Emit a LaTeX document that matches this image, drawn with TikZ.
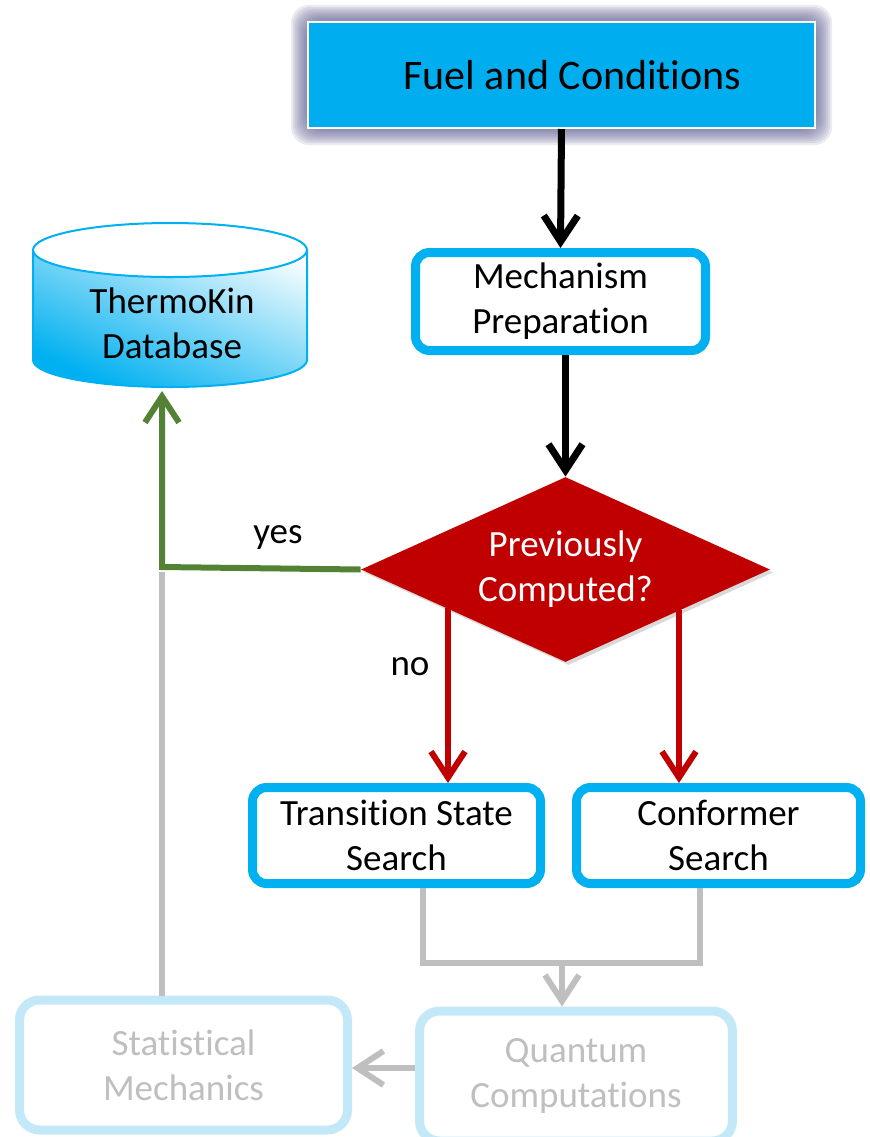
\documentclass[tikz,border=0pt]{standalone}
\usepackage{fontspec}
\setmainfont{Carlito}[Ligatures={NoCommon,NoContextual,NoRare}]
\usetikzlibrary{arrows.meta,shapes.geometric,shadows,calc}
\definecolor{fuelblue}{RGB}{0,174,239}
\definecolor{cyanb}{RGB}{0,176,240}
\definecolor{lightcyan}{RGB}{195,233,248}
\definecolor{glow}{RGB}{95,95,145}
\definecolor{grayline}{RGB}{191,191,191}
\definecolor{greenline}{RGB}{84,130,53}
\definecolor{redd}{RGB}{192,0,0}
\begin{document}
\begin{tikzpicture}[x=0.5pt,y=-0.5pt,
  txt/.style={font=\fontsize{18.5}{22.5}\selectfont, align=center},
  procbox/.style={txt, draw=cyanb, line width=4.5pt, fill=white, rounded corners=7pt, inner sep=0pt,
     drop shadow={shadow xshift=1.5pt,shadow yshift=-1.5pt,opacity=0.35}},
  fadedbox/.style={txt, draw=lightcyan, line width=4.5pt, fill=white, rounded corners=10pt, inner sep=0pt, text=grayline},
  head/.style={-{Straight Barb[length=13pt,width=17pt]}},
  conn/.style={line width=3pt},
]
\useasboundingbox (0,0) rectangle (869,1137);

% glow of the top box
\foreach \i in {1,...,9}
  \fill[glow, opacity=0.13, rounded corners=9pt] ({308-1.9*\i},{22-1.9*\i}) rectangle ({815+1.9*\i},{128+1.9*\i});
\node[draw=white, line width=1pt, fill=fuelblue, minimum width=253.5pt, minimum height=53pt, inner sep=0pt,
      font=\fontsize{21}{25}\selectfont] (fuel) at (561.5,75) {\hspace{11pt}Fuel and Conditions};

% database cylinder
\shade[top color=white, bottom color=cyanb, shading angle=-25]
  (33,250) -- (33,360) arc[start angle=180, end angle=360, x radius=68.5pt, y radius=13.5pt]
  -- (307,250) arc[start angle=0, end angle=180, x radius=68.5pt, y radius=13.5pt] -- cycle;
\draw[cyanb, line width=1pt]
  (33,250) -- (33,360) arc[start angle=180, end angle=360, x radius=68.5pt, y radius=13.5pt]
  -- (307,250);
\filldraw[fill=white, draw=cyanb, line width=1pt] (170,250) ellipse [x radius=68.5pt, y radius=13.5pt];
\node[txt] (db) at (172,323) {ThermoKin\\Database};
\coordinate (dbbot) at (162,391);

% process boxes
\node[procbox, minimum width=145pt, minimum height=49pt] (mech) at (560.5,301.5) {Mechanism\\Preparation};
\node[diamond, aspect=2.21, fill=redd, minimum width=204.5pt, minimum height=92.5pt, inner sep=0pt, text=white, txt,
      drop shadow={shadow xshift=1.5pt,shadow yshift=-1.5pt,opacity=0.3}] (prev) at (565.5,569.5) {Previously\\Computed?};
\node[procbox, minimum width=144pt, minimum height=48pt] (ts) at (396.5,835.5) {Transition State\\Search};
\node[procbox, minimum width=142pt, minimum height=48pt] (conf) at (718.5,835.5) {Conformer\\Search};
\node[fadedbox, minimum width=156.5pt, minimum height=65pt] (quant) at (576,1076) {Quantum\\Computations};
\node[fadedbox, minimum width=164pt, minimum height=65pt] (stat) at (183.5,1065) {Statistical\\Mechanics};

% labels
\node[txt] (yes) at (278,537) {yes};
\node[txt] (no) at (410,667) {no};

% black arrows
\draw[line width=3.5pt, head] (fuel.south) -- (mech.north);
\draw[line width=3.5pt, head] (mech.south -| prev.north) -- (prev.north);

% yes branch
\coordinate (yc) at (162,567);
\draw[grayline, conn] (162,572) -- (stat.north -| yc);
\draw[greenline, conn, head] (prev.west) -- (yc) -- (dbbot);

% no branches
\coordinate (r1) at (448,608);
\coordinate (r2) at (679,610);
\draw[redd, conn, head] (r1) -- (r1 |- ts.north);
\draw[redd, conn, head] (r2) -- (r2 |- conf.north);

% gray merge
\coordinate (j1) at (423,963);
\coordinate (j2) at (700,963);
\coordinate (jm) at (562,963);
\draw[grayline, conn] (j1 |- ts.south) -- (j1) -- (j2) -- (j2 |- conf.south);
\draw[grayline, conn, head] (jm) -- (jm |- quant.north);
\coordinate (qa) at (415,1068);
\draw[grayline, conn, head] (qa -| quant.west) -- (qa -| stat.east);
\end{tikzpicture}
\end{document}
